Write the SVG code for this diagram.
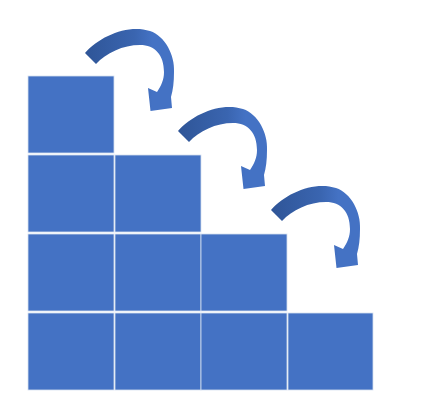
<svg xmlns="http://www.w3.org/2000/svg" width="424" height="415" viewBox="0 0 424 415">
<style>
.sq{fill:#4472C4;stroke:#D6E0F0;stroke-width:0.8}
.arr{fill:url(#ag)}
</style>
<defs>
<linearGradient id="ag" gradientUnits="userSpaceOnUse" x1="85" y1="0" x2="175" y2="0">
<stop offset="0" stop-color="#2F5597"/>
<stop offset="0.55" stop-color="#3A65B0"/>
<stop offset="0.75" stop-color="#4472C4"/>
<stop offset="1" stop-color="#4472C4"/>
</linearGradient>
<path id="arrow" class="arr" d="M85 53 C100 36 128 24 150 31 C165 36 175 55 174 72 C174 82 173 90 171 97 L172 108 L150.5 111 L148 88 L157 92 C161 86 164 80 164 72 C164 55 155 45 140 45 C123 45 106 53 96 64 Z"/>
</defs>
<rect width="424" height="415" fill="#FFFFFF"/>
<g id="squares">
<g id="sq-r1c1"><rect class="sq" x="28" y="76" width="86" height="77"/></g>
<g id="sq-r2c1"><rect class="sq" x="28" y="155" width="86" height="77"/></g>
<g id="sq-r2c2"><rect class="sq" x="115" y="155" width="86" height="77"/></g>
<g id="sq-r3c1"><rect class="sq" x="28" y="234" width="86" height="77"/></g>
<g id="sq-r3c2"><rect class="sq" x="115" y="234" width="86" height="77"/></g>
<g id="sq-r3c3"><rect class="sq" x="201" y="234" width="86" height="77"/></g>
<g id="sq-r4c1"><rect class="sq" x="28" y="313" width="86" height="77"/></g>
<g id="sq-r4c2"><rect class="sq" x="115" y="313" width="86" height="77"/></g>
<g id="sq-r4c3"><rect class="sq" x="201" y="313" width="86" height="77"/></g>
<g id="sq-r4c4"><rect class="sq" x="288" y="313" width="85" height="77"/></g>
</g>
<g id="connectors">
<use href="#arrow"/>
<use href="#arrow" transform="translate(93,78)"/>
<use href="#arrow" transform="translate(186,157)"/>
</g>
</svg>
